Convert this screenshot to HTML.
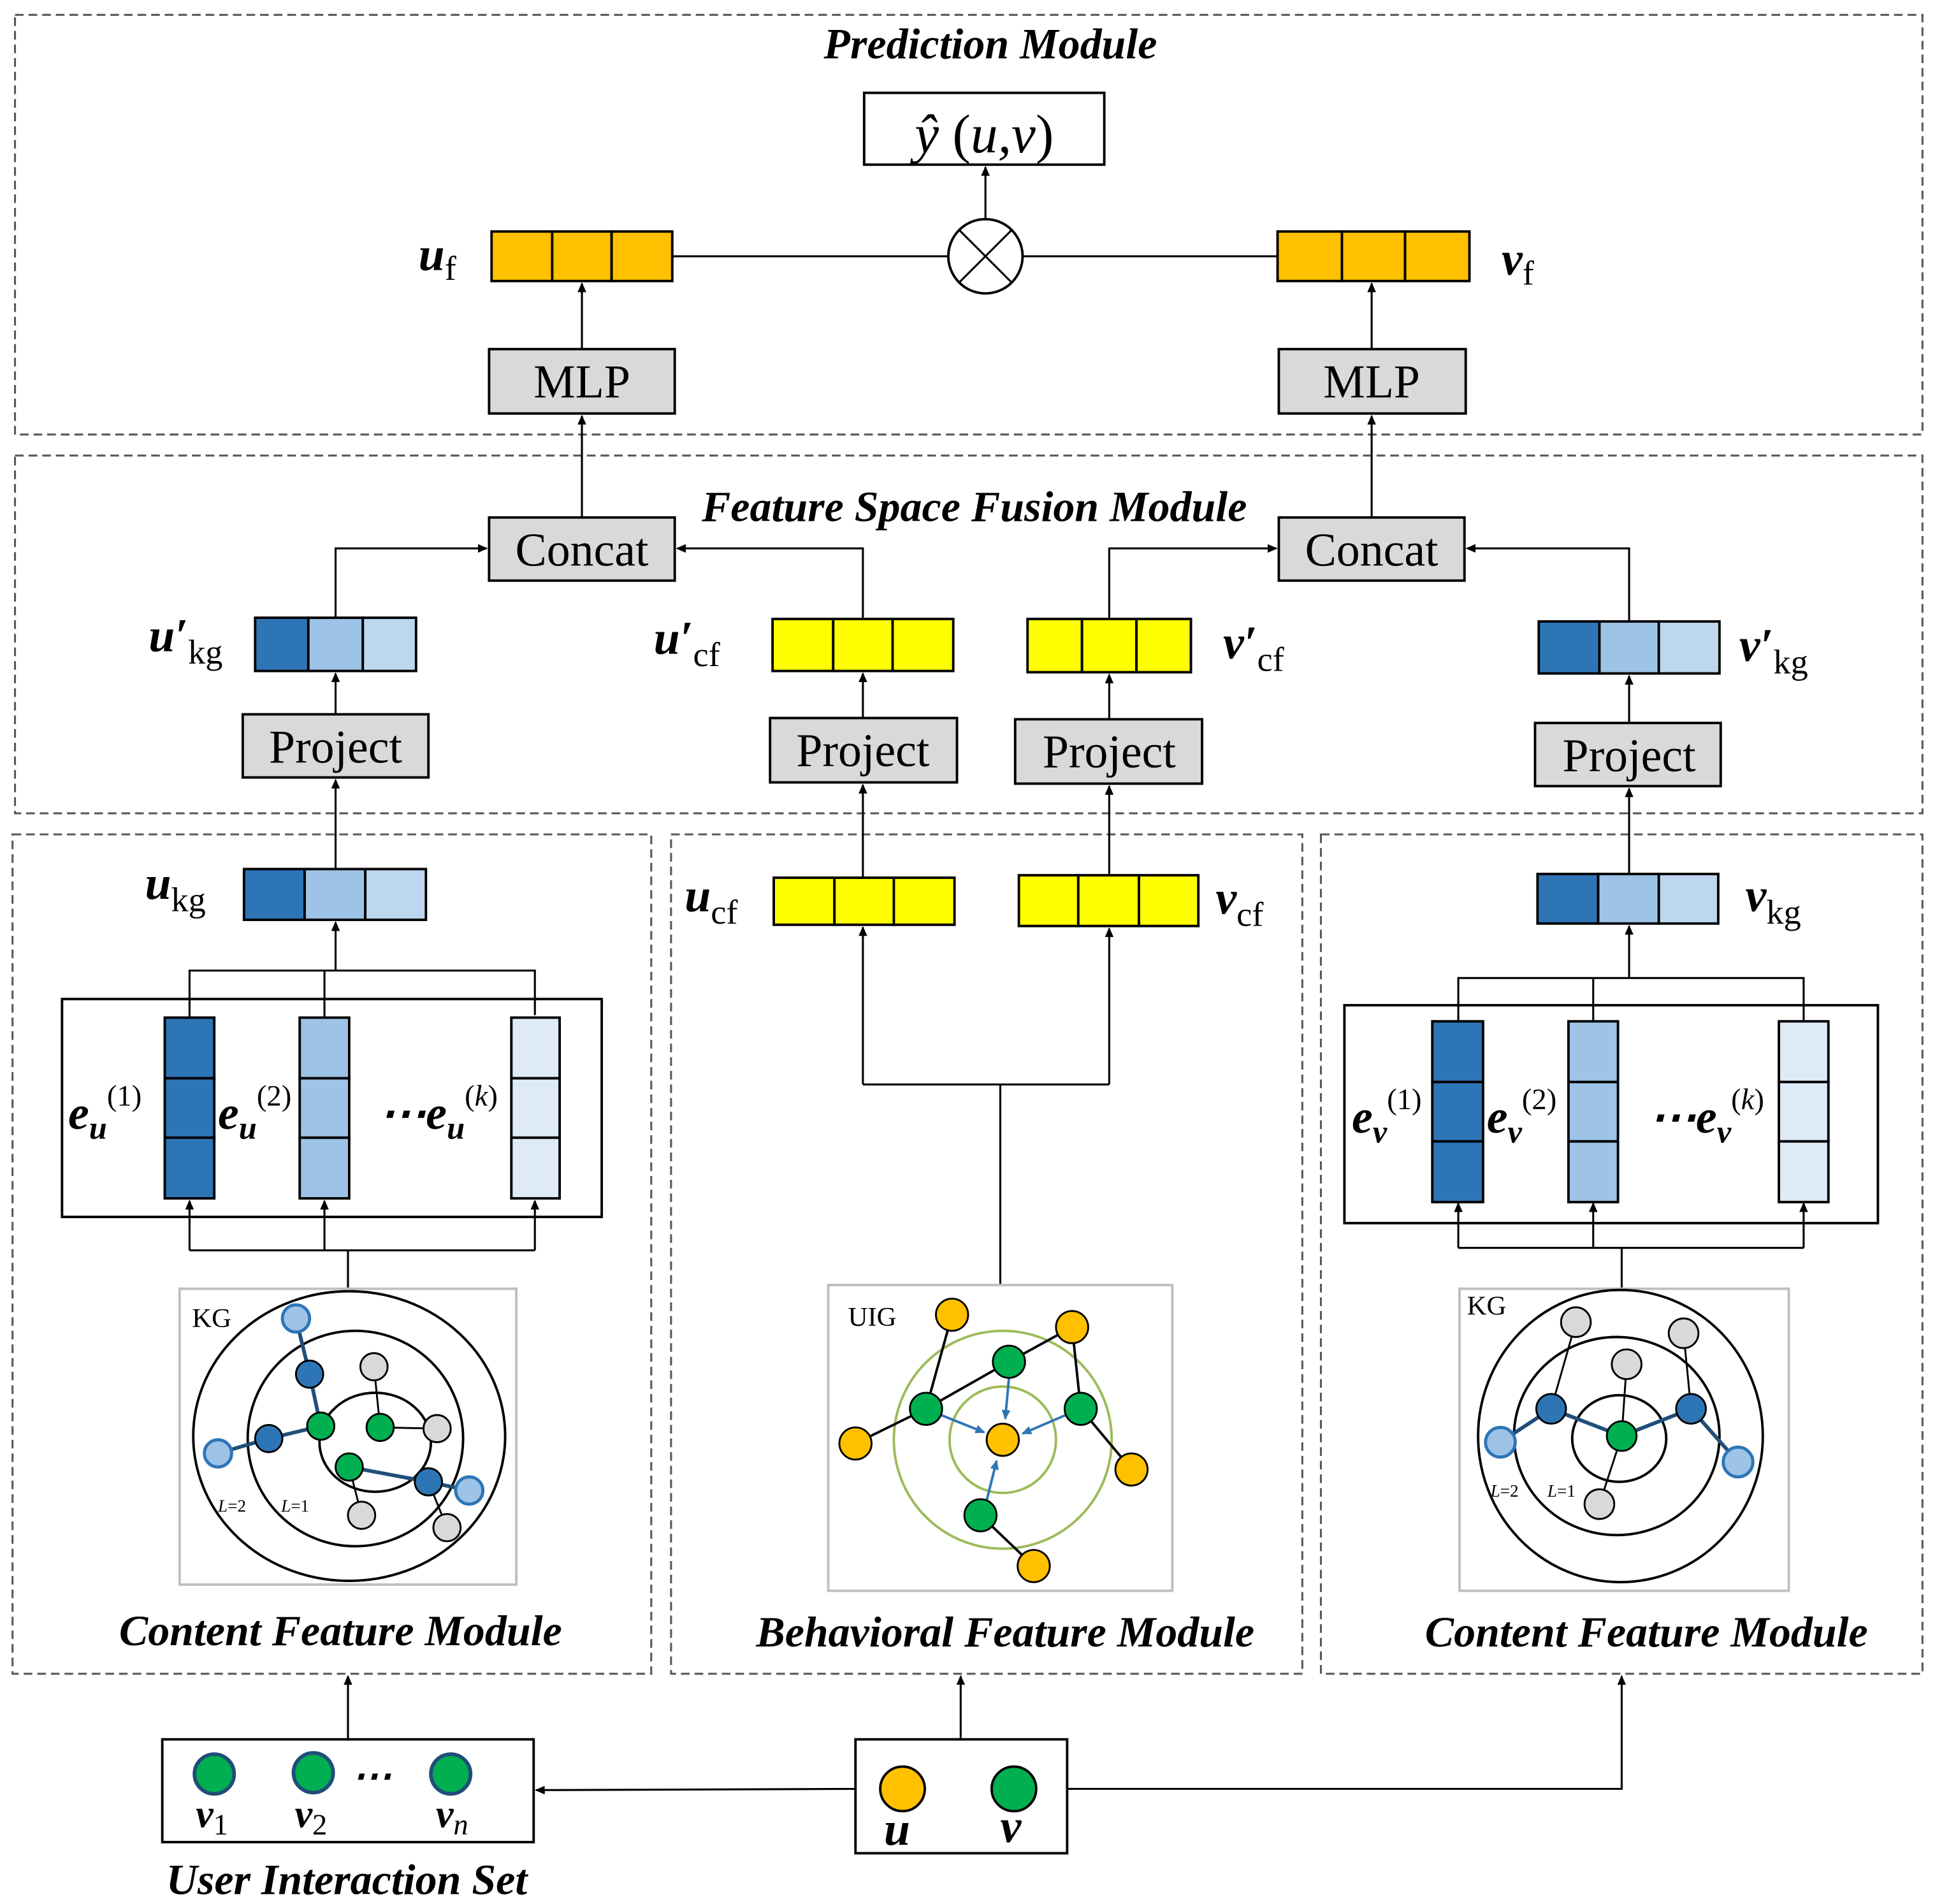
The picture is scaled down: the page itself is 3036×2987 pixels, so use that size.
<!DOCTYPE html>
<html><head><meta charset="utf-8"><style>html,body{margin:0;padding:0;background:#fff}svg{display:block}</style></head>
<body>
<svg xmlns="http://www.w3.org/2000/svg" width="3036" height="2987" viewBox="0 0 1563 1538" font-family="Liberation Serif, serif">
<defs>
<marker id="a" markerWidth="8" markerHeight="8" refX="7" refY="4" orient="auto" markerUnits="userSpaceOnUse"><path d="M0,0.5 L8,4 L0,7.5 z" fill="#000"/></marker>
<marker id="b" markerWidth="8" markerHeight="8" refX="7" refY="4" orient="auto" markerUnits="userSpaceOnUse"><path d="M0,0.5 L8,4 L0,7.5 z" fill="#2E75B6"/></marker>
</defs>
<g fill="none" stroke="#595959" stroke-width="1.6" stroke-dasharray="7,4">
<rect x="12" y="12" width="1541" height="339"/>
<rect x="12" y="368" width="1541" height="289"/>
<rect x="10" y="674" width="516" height="678"/>
<rect x="542" y="674" width="510" height="678"/>
<rect x="1067" y="674" width="486" height="678"/>
</g>
<g font-weight="bold" font-style="italic" font-size="35" text-anchor="middle">
<text x="800" y="47">Prediction Module</text>
<text x="787" y="421">Feature Space Fusion Module</text>
<text x="275" y="1329">Content Feature Module</text>
<text x="812" y="1330">Behavioral Feature Module</text>
<text x="1330" y="1330">Content Feature Module</text>
<text x="280" y="1530">User Interaction Set</text>
</g>
<!-- prediction -->
<rect x="698" y="75" width="194" height="58" fill="#fff" stroke="#000" stroke-width="2"/>
<text x="795" y="123" font-size="44" text-anchor="middle" font-style="italic">ŷ <tspan font-style="normal">(</tspan>u,v<tspan font-style="normal">)</tspan></text>
<g stroke="#000" stroke-width="1.6" fill="none">
<line x1="543" y1="207" x2="766" y2="207"/><line x1="826" y1="207" x2="1032" y2="207"/>
<circle cx="796" cy="207" r="30" fill="#fff" stroke-width="2"/>
<line x1="775" y1="186" x2="817" y2="228"/><line x1="817" y1="186" x2="775" y2="228"/>
<line x1="796" y1="177" x2="796" y2="135" marker-end="url(#a)"/>
<line x1="470" y1="282" x2="470" y2="229" marker-end="url(#a)"/>
<line x1="1108" y1="282" x2="1108" y2="229" marker-end="url(#a)"/>
<line x1="470" y1="418" x2="470" y2="336" marker-end="url(#a)"/>
<line x1="1108" y1="418" x2="1108" y2="336" marker-end="url(#a)"/>
<polyline points="271,499 271,443 393,443" marker-end="url(#a)"/>
<polyline points="697,500 697,443 547,443" marker-end="url(#a)"/>
<polyline points="896,500 896,443 1031,443" marker-end="url(#a)"/>
<polyline points="1316,502 1316,443 1185,443" marker-end="url(#a)"/>
<line x1="271" y1="577" x2="271" y2="544" marker-end="url(#a)"/>
<line x1="697" y1="580" x2="697" y2="544" marker-end="url(#a)"/>
<line x1="896" y1="581" x2="896" y2="545" marker-end="url(#a)"/>
<line x1="1316" y1="584" x2="1316" y2="546" marker-end="url(#a)"/>
<line x1="271" y1="702" x2="271" y2="630" marker-end="url(#a)"/>
<line x1="697" y1="709" x2="697" y2="634" marker-end="url(#a)"/>
<line x1="896" y1="707" x2="896" y2="635" marker-end="url(#a)"/>
<line x1="1316" y1="706" x2="1316" y2="637" marker-end="url(#a)"/>
<polyline points="153,822 153,784 432,784 432,820"/><line x1="262" y1="784" x2="262" y2="822"/>
<line x1="271" y1="784" x2="271" y2="745" marker-end="url(#a)"/>
<line x1="281" y1="1041" x2="281" y2="1010"/>
<polyline points="153,1010 432,1010"/>
<line x1="153" y1="1010" x2="153" y2="970" marker-end="url(#a)"/>
<line x1="262" y1="1010" x2="262" y2="970" marker-end="url(#a)"/>
<line x1="432" y1="1010" x2="432" y2="970" marker-end="url(#a)"/>
<polyline points="1178,825 1178,790 1457,790 1457,825"/><line x1="1287" y1="790" x2="1287" y2="825"/>
<line x1="1316" y1="790" x2="1316" y2="748" marker-end="url(#a)"/>
<line x1="1310" y1="1041" x2="1310" y2="1008"/>
<polyline points="1178,1008 1457,1008"/>
<line x1="1178" y1="1008" x2="1178" y2="972" marker-end="url(#a)"/>
<line x1="1287" y1="1008" x2="1287" y2="972" marker-end="url(#a)"/>
<line x1="1457" y1="1008" x2="1457" y2="972" marker-end="url(#a)"/>
<line x1="808" y1="1038" x2="808" y2="876"/>
<polyline points="697,876 896,876"/>
<line x1="697" y1="876" x2="697" y2="749" marker-end="url(#a)"/>
<line x1="896" y1="876" x2="896" y2="750" marker-end="url(#a)"/>
<line x1="281" y1="1405" x2="281" y2="1354" marker-end="url(#a)"/>
<line x1="776" y1="1405" x2="776" y2="1354" marker-end="url(#a)"/>
<line x1="691" y1="1445" x2="433" y2="1446" marker-end="url(#a)"/>
<polyline points="862,1445 1310,1445 1310,1354" marker-end="url(#a)"/>
</g>
<g stroke="#000" stroke-width="2">
<g fill="#FFC000"><rect x="397" y="187" width="49" height="40"/><rect x="446" y="187" width="48" height="40"/><rect x="494" y="187" width="49" height="40"/>
<rect x="1032" y="187" width="52" height="40"/><rect x="1084" y="187" width="51" height="40"/><rect x="1135" y="187" width="52" height="40"/></g>
<g fill="#FFFF00"><rect x="624" y="500" width="49" height="42"/><rect x="673" y="500" width="48" height="42"/><rect x="721" y="500" width="49" height="42"/>
<rect x="830" y="500" width="44" height="43"/><rect x="874" y="500" width="44" height="43"/><rect x="918" y="500" width="44" height="43"/>
<rect x="625" y="709" width="49" height="38"/><rect x="674" y="709" width="48" height="38"/><rect x="722" y="709" width="49" height="38"/>
<rect x="823" y="707" width="48" height="41"/><rect x="871" y="707" width="49" height="41"/><rect x="920" y="707" width="48" height="41"/></g>
<rect x="206" y="499" width="43" height="43" fill="#2E75B6"/><rect x="249" y="499" width="44" height="43" fill="#9DC3E6"/><rect x="293" y="499" width="43" height="43" fill="#BDD7EE"/>
<rect x="1243" y="502" width="49" height="42" fill="#2E75B6"/><rect x="1292" y="502" width="48" height="42" fill="#9DC3E6"/><rect x="1340" y="502" width="49" height="42" fill="#BDD7EE"/>
<rect x="197" y="702" width="49" height="41" fill="#2E75B6"/><rect x="246" y="702" width="49" height="41" fill="#9DC3E6"/><rect x="295" y="702" width="49" height="41" fill="#BDD7EE"/>
<rect x="1242" y="706" width="49" height="40" fill="#2E75B6"/><rect x="1291" y="706" width="49" height="40" fill="#9DC3E6"/><rect x="1340" y="706" width="48" height="40" fill="#BDD7EE"/>
<g fill="#D9D9D9"><rect x="395" y="282" width="150" height="52"/><rect x="1033" y="282" width="151" height="52"/>
<rect x="395" y="418" width="150" height="51"/><rect x="1033" y="418" width="150" height="51"/>
<rect x="196" y="577" width="150" height="51"/><rect x="622" y="580" width="151" height="52"/><rect x="820" y="581" width="151" height="52"/><rect x="1240" y="584" width="150" height="51"/></g>
<rect x="50" y="807" width="436" height="176" fill="none"/>
<rect x="1086" y="812" width="431" height="176" fill="none"/>
<rect x="133" y="822" width="40" height="49" fill="#2E75B6"/><rect x="133" y="871" width="40" height="48" fill="#2E75B6"/><rect x="133" y="919" width="40" height="49" fill="#2E75B6"/>
<rect x="242" y="822" width="40" height="49" fill="#9DC3E6"/><rect x="242" y="871" width="40" height="48" fill="#9DC3E6"/><rect x="242" y="919" width="40" height="49" fill="#9DC3E6"/>
<rect x="413" y="822" width="39" height="49" fill="#DEEBF7"/><rect x="413" y="871" width="39" height="48" fill="#DEEBF7"/><rect x="413" y="919" width="39" height="49" fill="#DEEBF7"/>
<rect x="1157" y="825" width="41" height="49" fill="#2E75B6"/><rect x="1157" y="874" width="41" height="48" fill="#2E75B6"/><rect x="1157" y="922" width="41" height="49" fill="#2E75B6"/>
<rect x="1267" y="825" width="40" height="49" fill="#9DC3E6"/><rect x="1267" y="874" width="40" height="48" fill="#9DC3E6"/><rect x="1267" y="922" width="40" height="49" fill="#9DC3E6"/>
<rect x="1437" y="825" width="40" height="49" fill="#DEEBF7"/><rect x="1437" y="874" width="40" height="48" fill="#DEEBF7"/><rect x="1437" y="922" width="40" height="49" fill="#DEEBF7"/>
<rect x="131" y="1405" width="300" height="83" fill="none"/>
<rect x="691" y="1405" width="171" height="92" fill="none"/>
</g>
<g font-size="38" text-anchor="middle">
<text x="470" y="321">MLP</text><text x="1108" y="321">MLP</text>
<text x="470" y="457">Concat</text><text x="1108" y="457">Concat</text>
<text x="271" y="616">Project</text><text x="697" y="619">Project</text><text x="896" y="620">Project</text><text x="1316" y="623">Project</text>
</g>
<g font-size="38" font-weight="bold" font-style="italic">
<text x="338" y="218">u<tspan font-size="28" font-weight="normal" font-style="normal" dy="8">f</tspan></text>
<text x="1213" y="222">v<tspan font-size="28" font-weight="normal" font-style="normal" dy="8">f</tspan></text>
<text x="120" y="526">u′<tspan font-size="28" font-weight="normal" font-style="normal" dy="10">kg</tspan></text>
<text x="528" y="528">u′<tspan font-size="28" font-weight="normal" font-style="normal" dy="10">cf</tspan></text>
<text x="988" y="532">v′<tspan font-size="28" font-weight="normal" font-style="normal" dy="10">cf</tspan></text>
<text x="1405" y="534">v′<tspan font-size="28" font-weight="normal" font-style="normal" dy="10">kg</tspan></text>
<text x="117" y="726">u<tspan font-size="28" font-weight="normal" font-style="normal" dy="10">kg</tspan></text>
<text x="553" y="736">u<tspan font-size="28" font-weight="normal" font-style="normal" dy="10">cf</tspan></text>
<text x="982" y="738">v<tspan font-size="28" font-weight="normal" font-style="normal" dy="10">cf</tspan></text>
<text x="1410" y="736">v<tspan font-size="28" font-weight="normal" font-style="normal" dy="10">kg</tspan></text>
<text x="55" y="912">e<tspan font-size="26" dy="8">u</tspan><tspan font-size="24" font-weight="normal" font-style="normal" dy="-27">(1)</tspan></text>
<text x="176" y="912">e<tspan font-size="26" dy="8">u</tspan><tspan font-size="24" font-weight="normal" font-style="normal" dy="-27">(2)</tspan></text>
<text x="306" y="912">⋯e<tspan font-size="26" dy="8">u</tspan><tspan font-size="24" font-weight="normal" font-style="normal" dy="-27">(<tspan font-style="italic">k</tspan>)</tspan></text>
<text x="1092" y="915">e<tspan font-size="26" dy="8">v</tspan><tspan font-size="24" font-weight="normal" font-style="normal" dy="-27">(1)</tspan></text>
<text x="1201" y="915">e<tspan font-size="26" dy="8">v</tspan><tspan font-size="24" font-weight="normal" font-style="normal" dy="-27">(2)</tspan></text>
<text x="1332" y="915">⋯e<tspan font-size="26" dy="8">v</tspan><tspan font-size="24" font-weight="normal" font-style="normal" dy="-27">(<tspan font-style="italic">k</tspan>)</tspan></text>
<text x="714" y="1490">u</text><text x="808" y="1488">v</text>
<text x="158" y="1476" font-size="32">v<tspan font-size="24" font-weight="normal" font-style="normal" dy="6">1</tspan></text>
<text x="238" y="1476" font-size="32">v<tspan font-size="24" font-weight="normal" font-style="normal" dy="6">2</tspan></text>
<text x="352" y="1476" font-size="32">v<tspan font-size="24" font-weight="normal" font-style="italic" dy="6">n</tspan></text>
<text x="284" y="1445" font-size="32">⋯</text>
</g>
<rect x="145" y="1041" width="272" height="239" fill="#fff" stroke="#BFBFBF" stroke-width="2"/>
<text x="155" y="1072" font-size="22">KG</text>
<g fill="none" stroke="#000" stroke-width="2">
<ellipse cx="282" cy="1160" rx="126" ry="117"/><ellipse cx="287" cy="1162" rx="87" ry="87"/><ellipse cx="303" cy="1165" rx="45" ry="40"/>
</g>
<text x="176" y="1221" font-size="14" font-style="italic">L<tspan font-style="normal">=2</tspan></text>
<text x="227" y="1221" font-size="14" font-style="italic">L<tspan font-style="normal">=1</tspan></text>
<g stroke="#000" stroke-width="1.5"><line x1="307" y1="1153" x2="302" y2="1104"/><line x1="307" y1="1153" x2="353" y2="1154"/><line x1="282" y1="1185" x2="292" y2="1224"/><line x1="346" y1="1197" x2="361" y2="1234"/></g>
<g stroke="#1F4E79" stroke-width="3" fill="none"><polyline points="239,1065 250,1110 259,1152"/><polyline points="176,1174 217,1162 259,1152"/><polyline points="282,1185 346,1197 379,1204"/></g>
<g stroke="#000" stroke-width="1.5">
<g fill="#2E75B6"><circle cx="250" cy="1110" r="11"/><circle cx="217" cy="1162" r="11"/><circle cx="346" cy="1197" r="11"/></g>
<g fill="#9DC3E6" stroke="#2E75B6" stroke-width="2.5"><circle cx="239" cy="1065" r="11"/><circle cx="176" cy="1174" r="11"/><circle cx="379" cy="1204" r="11"/></g>
<g fill="#00B050"><circle cx="259" cy="1152" r="11"/><circle cx="307" cy="1153" r="11"/><circle cx="282" cy="1185" r="11"/></g>
<g fill="#D9D9D9"><circle cx="302" cy="1104" r="11"/><circle cx="353" cy="1154" r="11"/><circle cx="292" cy="1224" r="11"/><circle cx="361" cy="1234" r="11"/></g>
</g>
<rect x="669" y="1038" width="278" height="247" fill="#fff" stroke="#BFBFBF" stroke-width="2"/>
<text x="685" y="1071" font-size="22">UIG</text>
<g fill="none" stroke="#9BBB59" stroke-width="2"><circle cx="810" cy="1163" r="88"/><circle cx="810" cy="1163" r="43"/></g>
<g stroke="#000" stroke-width="2"><line x1="748" y1="1138" x2="769" y2="1062"/><line x1="748" y1="1138" x2="815" y2="1100"/><line x1="815" y1="1100" x2="866" y2="1072"/><line x1="866" y1="1072" x2="873" y2="1138"/><line x1="873" y1="1138" x2="914" y2="1187"/><line x1="748" y1="1138" x2="691" y2="1166"/><line x1="792" y1="1224" x2="835" y2="1265"/></g>
<g stroke="#2E75B6" stroke-width="2"><line x1="760" y1="1143" x2="795" y2="1157" marker-end="url(#b)"/><line x1="815" y1="1113" x2="812" y2="1146" marker-end="url(#b)"/><line x1="861" y1="1143" x2="826" y2="1158" marker-end="url(#b)"/><line x1="797" y1="1212" x2="805" y2="1180" marker-end="url(#b)"/></g>
<g stroke="#000" stroke-width="1.5">
<g fill="#00B050"><circle cx="748" cy="1138" r="13"/><circle cx="815" cy="1100" r="13"/><circle cx="873" cy="1138" r="13"/><circle cx="792" cy="1224" r="13"/></g>
<g fill="#FFC000"><circle cx="810" cy="1163" r="13"/><circle cx="769" cy="1062" r="13"/><circle cx="866" cy="1072" r="13"/><circle cx="691" cy="1166" r="13"/><circle cx="914" cy="1187" r="13"/><circle cx="835" cy="1265" r="13"/></g>
</g>
<rect x="1179" y="1041" width="266" height="244" fill="#fff" stroke="#BFBFBF" stroke-width="2"/>
<text x="1185" y="1062" font-size="22">KG</text>
<g fill="none" stroke="#000" stroke-width="2">
<ellipse cx="1309" cy="1160" rx="115" ry="118"/><ellipse cx="1306" cy="1160" rx="83" ry="80"/><ellipse cx="1308" cy="1162" rx="38" ry="35"/>
</g>
<text x="1204" y="1209" font-size="14" font-style="italic">L<tspan font-style="normal">=2</tspan></text>
<text x="1250" y="1209" font-size="14" font-style="italic">L<tspan font-style="normal">=1</tspan></text>
<g stroke="#000" stroke-width="1.5"><line x1="1253" y1="1138" x2="1273" y2="1068"/><line x1="1310" y1="1160" x2="1314" y2="1102"/><line x1="1366" y1="1138" x2="1360" y2="1077"/><line x1="1310" y1="1160" x2="1292" y2="1215"/></g>
<polyline points="1212,1165 1253,1138 1310,1160 1366,1138 1404,1181" fill="none" stroke="#1F4E79" stroke-width="3"/>
<g stroke="#000" stroke-width="1.5">
<circle cx="1310" cy="1160" r="12" fill="#00B050"/>
<g fill="#2E75B6"><circle cx="1253" cy="1138" r="12"/><circle cx="1366" cy="1138" r="12"/></g>
<g fill="#9DC3E6" stroke="#2E75B6" stroke-width="2.5"><circle cx="1212" cy="1165" r="12"/><circle cx="1404" cy="1181" r="12"/></g>
<g fill="#D9D9D9"><circle cx="1273" cy="1068" r="12"/><circle cx="1314" cy="1102" r="12"/><circle cx="1360" cy="1077" r="12"/><circle cx="1292" cy="1215" r="12"/></g>
</g>
<g stroke="#1F4E79" stroke-width="3" fill="#00B050"><circle cx="173" cy="1433" r="16"/><circle cx="253" cy="1432" r="16"/><circle cx="364" cy="1433" r="16"/></g>
<circle cx="729" cy="1445" r="18" fill="#FFC000" stroke="#000" stroke-width="2"/>
<circle cx="819" cy="1445" r="18" fill="#00B050" stroke="#000" stroke-width="2"/>
</svg>
</body></html>
